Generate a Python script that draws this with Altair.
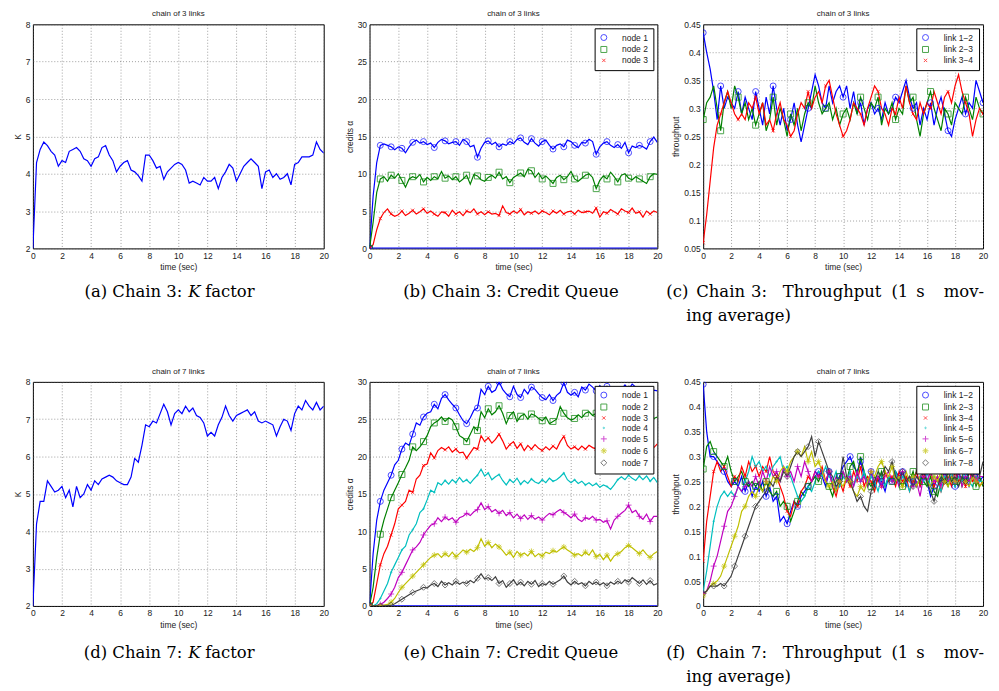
import altair as alt
import pandas as pd

FONT = "Liberation Sans"
SERIF = "DejaVu Serif"

# sampling grid of the traces (seconds)
TIME = [i * 0.25 for i in range(81)]

# ---------------- (a) chain of 3 links : K factor ----------------
K3 = [2.0, 4.3, 4.65, 4.85, 4.75, 4.6, 4.5, 4.2, 4.35, 4.3,
      4.6, 4.65, 4.7, 4.6, 4.4, 4.35, 4.2, 4.4, 4.45, 4.7,
      4.75, 4.5, 4.35, 4.05, 4.2, 4.3, 4.35, 4.1, 4.05, 3.95,
      3.8, 4.5, 4.5, 4.35, 4.15, 4.2, 3.85, 4.05, 4.15, 4.25,
      4.3, 4.25, 4.1, 3.75, 3.8, 3.75, 3.7, 3.9, 3.8, 3.8,
      3.9, 3.6, 3.9, 4.05, 4.25, 4.15, 3.8, 4.0, 4.2, 4.3,
      4.4, 4.3, 4.2, 3.6, 4.05, 4.1, 3.9, 4.0, 3.85, 3.9,
      4.0, 3.7, 4.25, 4.3, 4.45, 4.45, 4.45, 4.5, 4.85, 4.65,
      4.55]

# ---------------- (d) chain of 7 links : K factor ----------------
K7 = [2.0, 4.2, 4.8, 4.8, 5.35, 5.2, 5.05, 5.1, 5.2, 4.9,
      5.1, 4.65, 5.2, 4.9, 5.0, 5.25, 5.1, 5.35, 5.25, 5.4,
      5.45, 5.5, 5.45, 5.35, 5.3, 5.25, 5.25, 5.45, 5.95, 5.85,
      6.3, 6.85, 6.8, 6.95, 6.9, 7.15, 7.4, 7.2, 6.85, 7.15,
      7.25, 7.15, 7.35, 7.2, 7.3, 7.1, 7.05, 6.9, 6.55, 6.65,
      6.55, 6.85, 7.05, 7.35, 7.1, 6.95, 7.1, 7.15, 7.2, 7.25,
      7.1, 7.2, 6.95, 6.9, 6.95, 6.9, 6.85, 6.55, 6.8, 7.0,
      6.95, 6.7, 7.15, 7.35, 7.25, 7.5, 7.35, 7.25, 7.45, 7.25,
      7.35]

# ---------------- (b) chain of 3 links : credit queue ----------------
CQ3_NAMES = ["node 1", "node 2", "node 3"]
CQ3_N1 = [0, 7, 11.5, 13.8, 14.0, 13.8, 13.6, 13.2, 13.6, 13.4,
          12.8, 13.6, 14.2, 14.5, 14.1, 14.3, 13.9, 14.1, 13.5, 14.2,
          14.6, 14.4, 14.0, 14.2, 14.3, 13.8, 14.6, 14.3, 13.6, 13.8,
          12.2, 13.4, 14.2, 14.4, 13.9, 14.2, 13.6, 14.0, 13.8, 14.3,
          14.0, 14.6, 14.8, 14.2, 13.9, 14.7, 14.1, 13.7, 14.3, 14.5,
          13.8, 13.3, 13.8, 14.0, 13.6, 14.5, 14.3, 13.8, 13.5, 14.2,
          14.1, 14.6, 14.3, 12.6, 13.6, 14.1, 14.3, 13.8, 13.5, 13.9,
          13.4, 14.2, 12.8, 13.7, 13.5, 13.8, 13.6, 13.3, 14.3, 14.9,
          14.2]
CQ3_N2 = [0, 3.5, 7.5, 9.3, 9.6, 9.0, 9.8, 9.4, 10.0, 9.1,
          8.2, 9.3, 9.6, 9.4, 9.9, 8.9, 9.5, 9.1, 9.6, 9.3,
          10.3, 9.4, 9.7, 9.2, 9.6, 8.9, 9.3, 9.8, 8.6, 9.9,
          9.7, 9.2, 9.0, 9.5, 9.8, 9.4, 10.2, 9.3, 9.6, 8.8,
          9.5, 9.8, 10.1, 9.6, 10.6, 10.4, 9.5, 10.1, 9.3, 9.7,
          9.2, 8.7, 9.5, 9.8, 9.2, 9.6, 10.3, 9.3, 9.0, 9.4,
          9.8, 10.0, 9.5, 8.0, 9.1, 9.7, 9.3, 10.2, 9.6, 8.9,
          9.8, 10.0, 9.4, 9.2, 9.6, 9.3, 9.0, 8.7, 9.6, 10.0,
          9.9]
CQ3_N3 = [0, 0.5, 2.5, 4.0, 4.8, 5.3, 4.6, 4.3, 4.5, 5.0,
          4.4, 4.7, 5.1, 4.6, 4.9, 5.3, 4.7, 5.0, 4.6, 4.3,
          4.9, 4.8, 4.3, 5.1, 4.6, 4.9, 4.4, 5.0, 4.8, 5.3,
          4.6, 4.9, 4.5, 4.9, 4.6, 4.7, 4.4, 5.7, 4.8, 4.6,
          5.0, 4.7, 5.2, 4.5, 4.9, 4.7, 5.0, 4.6, 5.0, 4.8,
          4.5, 5.0, 4.7, 5.1, 4.6, 4.9, 5.0, 4.6, 5.1, 4.8,
          4.9, 5.0, 4.7, 5.4, 4.2, 4.9, 4.7, 5.2, 4.9, 4.6,
          5.3, 5.0, 4.8, 5.4, 4.7, 4.9, 4.2, 5.0, 4.6, 5.0,
          4.8]

# ---------------- (c) chain of 3 links : throughput ----------------
TP3_NAMES = ["link 1\u22122", "link 2\u22123", "link 3\u22124"]
TP3_L12 = [0.435, 0.40, 0.37, 0.33, 0.28, 0.34, 0.30, 0.32, 0.31, 0.30,
           0.33, 0.29, 0.32, 0.30, 0.28, 0.33, 0.30, 0.27, 0.32, 0.29,
           0.34, 0.30, 0.27, 0.30, 0.26, 0.28, 0.31, 0.27, 0.24, 0.27,
           0.30, 0.33, 0.36, 0.34, 0.31, 0.30, 0.34, 0.31, 0.33, 0.34,
           0.32, 0.34, 0.30, 0.33, 0.29, 0.31, 0.27, 0.30, 0.31, 0.29,
           0.30, 0.28, 0.31, 0.29, 0.30, 0.32, 0.31, 0.33, 0.35, 0.32,
           0.30, 0.31, 0.27, 0.30, 0.28, 0.31, 0.27, 0.30, 0.32, 0.29,
           0.26, 0.25, 0.28, 0.30, 0.32, 0.29, 0.31, 0.30, 0.35, 0.33,
           0.31]
TP3_L23 = [0.28, 0.31, 0.32, 0.34, 0.30, 0.26, 0.31, 0.33, 0.30, 0.34,
           0.32, 0.29, 0.31, 0.28, 0.30, 0.27, 0.29, 0.31, 0.26, 0.28,
           0.32, 0.27, 0.30, 0.28, 0.25, 0.29, 0.27, 0.30, 0.26, 0.29,
           0.31, 0.30, 0.34, 0.31, 0.29, 0.30, 0.31, 0.28, 0.30, 0.27,
           0.29, 0.30, 0.28, 0.31, 0.29, 0.32, 0.30, 0.28, 0.31, 0.30,
           0.32, 0.27, 0.30, 0.29, 0.31, 0.28, 0.30, 0.29, 0.34, 0.31,
           0.32, 0.28, 0.25, 0.29, 0.31, 0.33, 0.30, 0.28, 0.26, 0.30,
           0.29, 0.27, 0.31, 0.30, 0.29, 0.32, 0.30, 0.28, 0.32, 0.30,
           0.29]
TP3_L34 = [0.06, 0.11, 0.17, 0.23, 0.27, 0.29, 0.31, 0.33, 0.31, 0.29,
           0.28, 0.29, 0.28, 0.31, 0.30, 0.32, 0.29, 0.31, 0.27, 0.28,
           0.26, 0.29, 0.31, 0.28, 0.27, 0.25, 0.26, 0.29, 0.31, 0.30,
           0.33, 0.30, 0.32, 0.33, 0.31, 0.34, 0.35, 0.32, 0.29, 0.27,
           0.25, 0.26, 0.28, 0.31, 0.30, 0.29, 0.27, 0.30, 0.32, 0.34,
           0.33, 0.30, 0.29, 0.27, 0.30, 0.29, 0.32, 0.30, 0.34, 0.31,
           0.29, 0.28, 0.31, 0.29, 0.31, 0.30, 0.33, 0.31, 0.29, 0.32,
           0.33, 0.31, 0.34, 0.36, 0.33, 0.31, 0.29, 0.25, 0.28, 0.30,
           0.29]

# ---------------- (e) chain of 7 links : credit queue ----------------
CQ7_NAMES = ["node 1", "node 2", "node 3", "node 4", "node 5", "node 6", "node 7"]
CQ7_N1 = [0, 7, 11.5, 14.0, 15.5, 16.5, 17.5, 18.9, 19.5, 21.0,
          21.8, 21.5, 23.0, 24.5, 24.2, 25.3, 25.8, 26.0, 27.0, 26.4,
          27.8, 28.3, 27.6, 27.0, 26.5, 25.6, 24.8, 24.4, 25.2, 26.2,
          26.5, 29.0, 28.3, 29.4, 28.6, 28.9, 30.0, 29.0, 28.4, 28.0,
          29.4, 28.3, 27.9, 29.0, 28.4, 29.3, 29.0, 28.4, 27.9, 27.6,
          28.3, 27.5, 28.2, 28.6, 29.9, 28.6, 28.2, 28.6, 28.0, 29.3,
          28.9, 29.7, 29.3, 28.8, 29.5, 28.7, 29.4, 28.8, 29.3, 28.6,
          29.0, 29.6, 29.0, 29.7, 29.3, 28.8, 29.2, 28.7, 28.5, 28.9,
          28.8]
CQ7_N2 = [0, 2.5, 6.5, 9.6, 11.5, 13.0, 14.5, 15.5, 16.5, 17.6,
          18.5, 19.5, 21.3, 20.8, 21.3, 22.0, 22.8, 24.0, 24.5, 24.8,
          25.3, 24.7, 25.2, 24.9, 24.0, 22.8, 22.5, 22.0, 23.0, 24.0,
          23.5, 26.0, 25.2, 26.4, 25.6, 26.0, 26.8, 25.8, 24.4, 25.5,
          26.0, 24.7, 25.4, 25.7, 25.0, 25.7, 25.5, 25.1, 24.8, 25.3,
          24.4, 24.7, 25.0, 26.7, 25.8, 25.2, 24.9, 25.1, 25.6, 25.2,
          25.8, 26.0, 25.5, 25.8, 25.2, 25.6, 25.4, 25.9, 25.1, 25.5,
          25.3, 25.8, 25.6, 25.0, 25.5, 25.2, 25.8, 25.4, 25.6, 25.1,
          25.3]
CQ7_N3 = [0, 0.5, 3.0, 5.5, 7.0, 8.0, 9.5, 11.0, 13.0, 13.5,
          14.0, 15.5, 15.2, 17.0, 17.5, 18.8, 19.0, 20.5, 19.8, 20.8,
          21.2, 20.9, 21.3, 20.6, 21.0, 20.5, 20.6, 19.8, 20.5, 21.2,
          21.0, 22.8, 22.0, 22.5, 21.8, 22.3, 23.0, 22.1, 21.0, 21.6,
          22.0, 21.1, 21.7, 20.8, 21.5, 21.0, 21.6, 21.1, 20.8, 21.3,
          20.9, 21.4, 21.0, 22.0, 22.7, 21.5, 21.0, 21.3, 20.9, 21.4,
          21.0, 21.5, 21.2, 21.0, 21.4, 21.1, 21.5, 21.0, 21.3, 20.9,
          21.4, 21.6, 21.1, 21.5, 21.2, 21.0, 21.4, 21.1, 20.8, 21.2,
          21.7]
CQ7_N4 = [0, 0, 0.3, 1.0, 2.0, 3.0, 4.5, 5.5, 6.5, 7.5,
          8.0, 9.5, 10.2, 11.0, 12.5, 13.0, 14.2, 15.5, 15.2, 16.5,
          16.2, 16.8, 16.3, 16.9, 16.5, 17.2, 16.6, 16.9, 16.4, 17.0,
          17.5, 18.3, 17.4, 17.8, 16.9, 17.3, 17.6, 16.8, 16.2, 16.9,
          16.5, 17.1, 16.3, 16.8, 16.4, 17.0, 16.6, 16.4, 16.9, 16.5,
          17.1, 16.7, 16.9, 17.3, 17.8, 16.9, 16.5, 16.9, 16.4, 16.7,
          16.2, 16.5, 16.1, 16.4, 15.9, 16.2, 16.0, 15.6, 16.2, 16.9,
          17.3, 16.9, 17.5, 17.1, 16.8, 17.4, 16.9, 17.4, 16.7, 17.2,
          16.5]
CQ7_N5 = [0, 0, 0, 0.2, 0.5, 1.0, 1.6, 2.5, 3.8, 4.5,
          5.5, 6.5, 7.5, 7.9, 8.5, 9.5, 10.2, 10.8, 11.0, 11.8,
          11.3, 11.9, 11.5, 11.8, 11.2, 11.8, 12.0, 12.4, 12.1, 12.6,
          12.9, 13.8, 12.9, 13.3, 12.6, 12.9, 12.4, 12.8, 12.1, 12.5,
          11.8, 12.3, 11.7, 12.2, 11.6, 12.1, 11.6, 11.9, 11.5, 12.0,
          12.4, 12.2, 12.6, 12.9, 12.5, 12.2, 11.8, 12.3, 11.6, 11.3,
          11.8, 11.6, 12.0, 11.5, 11.6, 11.2, 11.4, 10.3, 11.5, 12.0,
          12.4, 12.8, 13.5, 12.5, 12.8, 12.0, 11.6, 12.3, 11.3, 12.0,
          12.0]
CQ7_N6 = [0, 0, 0, 0, 0.1, 0.2, 0.5, 1.0, 1.8, 2.5,
          3.0, 3.5, 4.0, 4.5, 5.0, 5.5, 6.0, 6.5, 6.8, 7.0,
          6.5, 7.0, 6.6, 7.2, 6.6, 7.0, 7.5, 7.2, 7.6, 7.3,
          7.8, 9.0, 8.0, 8.5, 7.8, 8.3, 7.9, 7.4, 6.8, 7.2,
          6.5, 7.3, 6.8, 7.1, 6.7, 7.3, 6.6, 7.0, 6.7, 7.2,
          7.0, 7.4, 7.2, 7.6, 7.9, 7.5, 7.2, 6.8, 7.0, 6.7,
          7.2, 6.8, 7.5, 6.6, 6.9, 6.2, 6.8, 6.0, 6.7, 7.0,
          7.3, 7.8, 8.1, 7.8, 7.4, 7.0, 7.5, 6.9, 6.5, 7.0,
          7.3]
CQ7_N7 = [0, 0, 0, 0, 0, 0, 0.1, 0.3, 0.6, 0.9,
          1.2, 1.5, 1.8, 2.0, 2.2, 2.5, 2.4, 2.8, 3.0, 2.6,
          3.3, 2.8, 3.1, 2.8, 3.3, 2.9, 3.2, 3.0, 3.4, 3.1,
          3.7, 4.3, 3.6, 3.8, 3.4, 3.9, 3.0, 3.4, 2.5, 3.0,
          3.5, 2.8, 3.2, 2.7, 3.3, 2.9, 3.4, 2.6, 3.0, 2.8,
          3.3, 2.9, 3.2, 3.5, 4.0, 3.2, 2.8, 3.3, 2.9, 3.1,
          2.7, 3.3, 2.9, 3.2, 2.8, 3.1, 2.7, 3.2, 2.9, 3.3,
          3.0, 3.5, 3.2, 3.8, 3.4, 3.0, 3.5, 2.9, 3.4, 2.8,
          3.0]

# ---------------- (f) chain of 7 links : throughput ----------------
TP7_NAMES = ["link 1\u22122", "link 2\u22123", "link 3\u22124", "link 4\u22125",
             "link 5\u22126", "link 6\u22127", "link 7\u22128"]
TP7_L12 = [0.445, 0.35, 0.30, 0.30, 0.29, 0.28, 0.27, 0.25, 0.24, 0.25,
           0.24, 0.26, 0.23, 0.25, 0.22, 0.24, 0.23, 0.25, 0.22, 0.24,
           0.21, 0.22, 0.17, 0.18, 0.165, 0.19, 0.21, 0.20, 0.22, 0.23,
           0.24, 0.25, 0.26, 0.27, 0.26, 0.24, 0.27, 0.25, 0.23, 0.26,
           0.28, 0.29, 0.30, 0.28, 0.27, 0.29, 0.26, 0.25, 0.27, 0.24,
           0.26, 0.25, 0.23, 0.26, 0.25, 0.27, 0.26, 0.27, 0.24, 0.26,
           0.25, 0.27, 0.24, 0.26, 0.25, 0.22, 0.24, 0.26, 0.25, 0.27,
           0.25, 0.26, 0.24, 0.27, 0.25, 0.26, 0.24, 0.26, 0.27, 0.25,
           0.26]
TP7_L23 = [0.275, 0.32, 0.33, 0.31, 0.30, 0.29, 0.28, 0.30, 0.27, 0.25,
           0.26, 0.27, 0.25, 0.24, 0.25, 0.24, 0.25, 0.23, 0.25, 0.23,
           0.22, 0.23, 0.20, 0.21, 0.20, 0.17, 0.19, 0.21, 0.23, 0.22,
           0.24, 0.25, 0.26, 0.25, 0.27, 0.25, 0.24, 0.22, 0.25, 0.26,
           0.27, 0.25, 0.28, 0.29, 0.26, 0.30, 0.27, 0.25, 0.24, 0.26,
           0.25, 0.27, 0.24, 0.26, 0.25, 0.27, 0.25, 0.24, 0.26, 0.25,
           0.27, 0.24, 0.26, 0.25, 0.24, 0.26, 0.23, 0.22, 0.25, 0.26,
           0.24, 0.26, 0.25, 0.27, 0.24, 0.26, 0.25, 0.27, 0.24, 0.26,
           0.24]
TP7_L34 = [0.09, 0.17, 0.22, 0.27, 0.29, 0.27, 0.28, 0.26, 0.24, 0.26,
           0.25, 0.28, 0.26, 0.29, 0.27, 0.28, 0.26, 0.28, 0.27, 0.30,
           0.27, 0.26, 0.24, 0.22, 0.19, 0.18, 0.21, 0.20, 0.23, 0.24,
           0.26, 0.25, 0.27, 0.26, 0.28, 0.25, 0.27, 0.24, 0.22, 0.25,
           0.23, 0.26, 0.24, 0.27, 0.25, 0.28, 0.24, 0.26, 0.25, 0.23,
           0.26, 0.24, 0.27, 0.25, 0.26, 0.24, 0.27, 0.25, 0.26, 0.23,
           0.25, 0.27, 0.24, 0.26, 0.25, 0.27, 0.24, 0.26, 0.23, 0.25,
           0.26, 0.24, 0.27, 0.25, 0.26, 0.24, 0.27, 0.25, 0.26, 0.24,
           0.25]
TP7_L45 = [0.03, 0.07, 0.12, 0.17, 0.20, 0.22, 0.23, 0.22, 0.23, 0.22,
           0.24, 0.23, 0.25, 0.27, 0.30, 0.28, 0.29, 0.27, 0.28, 0.26,
           0.28, 0.29, 0.30, 0.27, 0.28, 0.26, 0.24, 0.22, 0.21, 0.22,
           0.24, 0.23, 0.25, 0.27, 0.26, 0.28, 0.26, 0.25, 0.27, 0.24,
           0.26, 0.25, 0.27, 0.24, 0.26, 0.25, 0.27, 0.24, 0.26, 0.25,
           0.23, 0.26, 0.24, 0.26, 0.25, 0.27, 0.24, 0.26, 0.25, 0.23,
           0.26, 0.24, 0.26, 0.25, 0.27, 0.24, 0.26, 0.25, 0.23, 0.26,
           0.25, 0.27, 0.24, 0.26, 0.25, 0.27, 0.25, 0.24, 0.26, 0.25,
           0.25]
TP7_L56 = [0.025, 0.03, 0.05, 0.08, 0.10, 0.13, 0.16, 0.19, 0.20, 0.22,
           0.24, 0.23, 0.24, 0.25, 0.24, 0.26, 0.24, 0.27, 0.25, 0.28,
           0.26, 0.27, 0.25, 0.28, 0.26, 0.27, 0.25, 0.28, 0.26, 0.29,
           0.27, 0.25, 0.27, 0.26, 0.27, 0.25, 0.27, 0.24, 0.26, 0.25,
           0.27, 0.25, 0.26, 0.24, 0.27, 0.25, 0.26, 0.24, 0.27, 0.25,
           0.26, 0.24, 0.26, 0.27, 0.25, 0.26, 0.24, 0.27, 0.25, 0.26,
           0.24, 0.25, 0.22, 0.26, 0.25, 0.27, 0.25, 0.26, 0.24, 0.27,
           0.25, 0.26, 0.25, 0.27, 0.24, 0.26, 0.25, 0.27, 0.25, 0.26,
           0.26]
TP7_L67 = [0.02, 0.03, 0.04, 0.045, 0.05, 0.06, 0.08, 0.10, 0.12, 0.14,
           0.16, 0.19, 0.20, 0.22, 0.23, 0.22, 0.24, 0.23, 0.25, 0.24,
           0.26, 0.25, 0.27, 0.28, 0.27, 0.29, 0.30, 0.31, 0.30, 0.32,
           0.29, 0.31, 0.28, 0.29, 0.27, 0.25, 0.24, 0.25, 0.23, 0.25,
           0.24, 0.26, 0.25, 0.23, 0.22, 0.24, 0.23, 0.25, 0.27, 0.26,
           0.28, 0.29, 0.27, 0.26, 0.28, 0.25, 0.26, 0.24, 0.27, 0.25,
           0.26, 0.24, 0.26, 0.27, 0.25, 0.24, 0.26, 0.25, 0.27, 0.25,
           0.24, 0.26, 0.25, 0.24, 0.26, 0.25, 0.24, 0.26, 0.25, 0.24,
           0.25]
TP7_L78 = [0.025, 0.03, 0.04, 0.04, 0.04, 0.045, 0.04, 0.05, 0.06, 0.08,
           0.10, 0.12, 0.14, 0.16, 0.18, 0.20, 0.21, 0.22, 0.23, 0.25,
           0.24, 0.26, 0.25, 0.27, 0.26, 0.28, 0.30, 0.31, 0.30, 0.31,
           0.32, 0.34, 0.30, 0.33, 0.31, 0.29, 0.27, 0.26, 0.24, 0.25,
           0.30, 0.26, 0.25, 0.23, 0.21, 0.22, 0.20, 0.19, 0.23, 0.25,
           0.27, 0.26, 0.28, 0.27, 0.29, 0.26, 0.25, 0.27, 0.25, 0.26,
           0.24, 0.26, 0.25, 0.27, 0.25, 0.23, 0.21, 0.24, 0.26, 0.25,
           0.27, 0.25, 0.26, 0.24, 0.26, 0.25, 0.27, 0.26, 0.28, 0.26,
           0.29]

# sink node credit (flat at zero, drawn in blue along the bottom)
SINK_T = [0, 20]
SINK_V = [0, 0]

COLORS7 = ["#0000ff", "#008000", "#ff0000", "#00bfbf", "#bf00bf", "#bfbf00", "#404040"]
# MATLAB-like markers: o, square, x, dot, +, *, diamond
XPATH = "M-0.55,-0.55L0.55,0.55M-0.55,0.55L0.55,-0.55"
DOT = "M-0.25,0A0.25,0.25 0 1,0 0.25,0A0.25,0.25 0 1,0 -0.25,0"
PLUS = "M-1,0L1,0M0,-1L0,1"
STAR = "M-1,0L1,0M0,-1L0,1M-0.7,-0.7L0.7,0.7M-0.7,0.7L0.7,-0.7"
SHAPES7 = ["circle", "square", XPATH, DOT, PLUS, STAR, "diamond"]

for arr in [K3, K7, CQ3_N1, CQ3_N2, CQ3_N3, TP3_L12, TP3_L23, TP3_L34,
            CQ7_N1, CQ7_N2, CQ7_N3, CQ7_N4, CQ7_N5, CQ7_N6, CQ7_N7,
            TP7_L12, TP7_L23, TP7_L34, TP7_L45, TP7_L56, TP7_L67, TP7_L78]:
    assert len(arr) == 81, len(arr)

CAP_SIZE = 16.5


def caption_marks(pieces):
    out = []
    for text, px, py, style, align in pieces:
        out.append(
            alt.Chart(pd.DataFrame({"c": [text]}))
            .mark_text(align=align, baseline="middle", font=SERIF, fontSize=CAP_SIZE,
                       fontStyle=style, color="black")
            .encode(text="c:N", x=alt.value(px), y=alt.value(py))
        )
    return out


def panel(tag, title, ytitle, ydom, yticks, names, series, colors, shapes,
          every, w, h, left, top, captions, legend=False, zero_line=False):
    field = "s_" + tag
    x = alt.X("t:Q", scale=alt.Scale(domain=[0, 20], nice=False),
              axis=alt.Axis(values=list(range(0, 21, 2)), title="time (sec)", labelFlush=False))
    y = alt.Y("v:Q", scale=alt.Scale(domain=ydom, nice=False, zero=False),
              axis=alt.Axis(values=yticks, title=ytitle, format="~g", labelFlush=False))
    layers = []
    if zero_line:
        layers.append(
            alt.Chart(pd.DataFrame({"t": SINK_T, "v": SINK_V}))
            .mark_line(color="#0000ff", strokeWidth=1.6, clip=True)
            .encode(x=x, y=y)
        )
    rows = []
    for n, vals, c in zip(names, series, colors):
        sdf = pd.DataFrame({"t": TIME, "v": vals})
        layers.append(alt.Chart(sdf).mark_line(color=c, strokeWidth=1.2, clip=True)
                      .encode(x=x, y=y))
        for k, (t, v) in enumerate(zip(TIME, vals)):
            if k % every == 0:
                rows.append({"t": t, "v": v, field: n})
    if shapes is not None:
        dfp = pd.DataFrame(rows)
        if legend:
            leg = alt.Legend(orient="top-right", title=None, strokeColor="black",
                             fillColor="white", padding=5, offset=4, labelFont=FONT,
                             labelFontSize=8.5, labelColor="#222", labelOffset=14,
                             rowPadding=1, symbolStrokeWidth=1, symbolSize=36)
            col = alt.Color(field + ":N", scale=alt.Scale(domain=names, range=colors), legend=leg)
            shp = alt.Shape(field + ":N", scale=alt.Scale(domain=names, range=shapes), legend=leg)
        else:
            col = alt.Color(field + ":N", scale=alt.Scale(domain=names, range=colors), legend=None)
            shp = alt.Shape(field + ":N", scale=alt.Scale(domain=names, range=shapes), legend=None)
        layers.append(
            alt.Chart(dfp).mark_point(filled=False, strokeWidth=1, size=36, clip=True)
            .encode(x=x, y=y, color=col, shape=shp)
        )
    pieces = [(tx, px - left, py - top, st, al) for tx, px, py, st, al in captions]
    layers += caption_marks(pieces)
    return alt.layer(*layers).properties(
        width=w, height=h,
        title=alt.TitleParams(title, fontSize=8, font=FONT, fontWeight="normal",
                              color="#222", offset=2),
    )


TOP1, TOP2, H = 24, 383, 225
LA, LB, LC = 31, 369, 704
WA, WB, WC = 292, 289, 281
COLSP = 46

K_TICKS = [2, 3, 4, 5, 6, 7, 8]
CQ_TICKS = [0, 5, 10, 15, 20, 25, 30]
TP3_TICKS = [0.05, 0.1, 0.15, 0.2, 0.25, 0.3, 0.35, 0.4, 0.45]
TP7_TICKS = [0, 0.05, 0.1, 0.15, 0.2, 0.25, 0.3, 0.35, 0.4, 0.45]


def tp_caption(letter, chain, y1, y2):
    # justified two-line caption, word by word
    return [("(" + letter + ")", 667, y1, "normal", "left"),
            ("Chain", 697, y1, "normal", "left"),
            (chain + ":", 752, y1, "normal", "left"),
            ("Throughput", 784, y1, "normal", "left"),
            ("(1", 893, y1, "normal", "left"),
            ("s", 918, y1, "normal", "left"),
            ("mov-", 986, y1, "normal", "right"),
            ("ing average)", 687, y2, "normal", "left")]


pa = panel("a", "chain of 3 links", "K", [2, 8], K_TICKS, ["K"], [K3], ["#0000ff"],
           None, 3, WA, H, LA, TOP1,
           [("(a) Chain 3:", 181, 293, "normal", "right"),
            ("K", 187, 293, "italic", "left"),
            ("factor", 204, 293, "normal", "left")])
pb = panel("b", "chain of 3 links", "credits \u03b1", [0, 30], CQ_TICKS, CQ3_NAMES,
           [CQ3_N1, CQ3_N2, CQ3_N3], COLORS7[:3], SHAPES7[:3], 3,
           WB, H, LB, TOP1,
           [("(b) Chain 3: Credit Queue", 511, 293, "normal", "center")],
           legend=True, zero_line=True)
pc = panel("c", "chain of 3 links", "throughput", [0.05, 0.45], TP3_TICKS, TP3_NAMES,
           [TP3_L12, TP3_L23, TP3_L34], COLORS7[:3], SHAPES7[:3], 5,
           WC, H, LC, TOP1, tp_caption("c", "3", 293, 317), legend=True)
pd_ = panel("d", "chain of 7 links", "K", [2, 8], K_TICKS, ["K"], [K7], ["#0000ff"],
            None, 3, WA, H, LA, TOP2,
            [("(d) Chain 7:", 181, 655, "normal", "right"),
             ("K", 187, 655, "italic", "left"),
             ("factor", 204, 655, "normal", "left")])
pe = panel("e", "chain of 7 links", "credits \u03b1", [0, 30], CQ_TICKS, CQ7_NAMES,
           [CQ7_N1, CQ7_N2, CQ7_N3, CQ7_N4, CQ7_N5, CQ7_N6, CQ7_N7], COLORS7, SHAPES7,
           3, WB, H, LB, TOP2,
           [("(e) Chain 7: Credit Queue", 511, 655, "normal", "center")],
           legend=True, zero_line=True)
pf = panel("f", "chain of 7 links", "throughput", [0, 0.45], TP7_TICKS, TP7_NAMES,
           [TP7_L12, TP7_L23, TP7_L34, TP7_L45, TP7_L56, TP7_L67, TP7_L78], COLORS7,
           SHAPES7, 3, WC, H, LC, TOP2, tp_caption("f", "7", 655, 679), legend=True)

chart = (
    alt.concat(pa, pb, pc, pd_, pe, pf, columns=3,
               spacing={"row": TOP2 - TOP1 - H, "column": COLSP},
               bounds="flush", align="each")
    .resolve_scale(color="independent", shape="independent")
    .resolve_legend(color="independent", shape="independent")
    .properties(padding={"left": 4, "top": 0, "right": 2, "bottom": 2}, background="white")
    .configure_view(stroke="black", strokeWidth=1)
    .configure_axis(grid=True, gridColor="#555555", gridDash=[1, 2], gridOpacity=0.8,
                    gridWidth=0.7, domain=False, ticks=False, labelFont=FONT,
                    labelFontSize=8.5, labelColor="#222222", titleFont=FONT,
                    titleFontSize=8.5, titleFontWeight="normal", titleColor="#222222",
                    labelPadding=3, titlePadding=3)
)

chart.save("out.html", embed_options={"renderer": "svg", "actions": False})
